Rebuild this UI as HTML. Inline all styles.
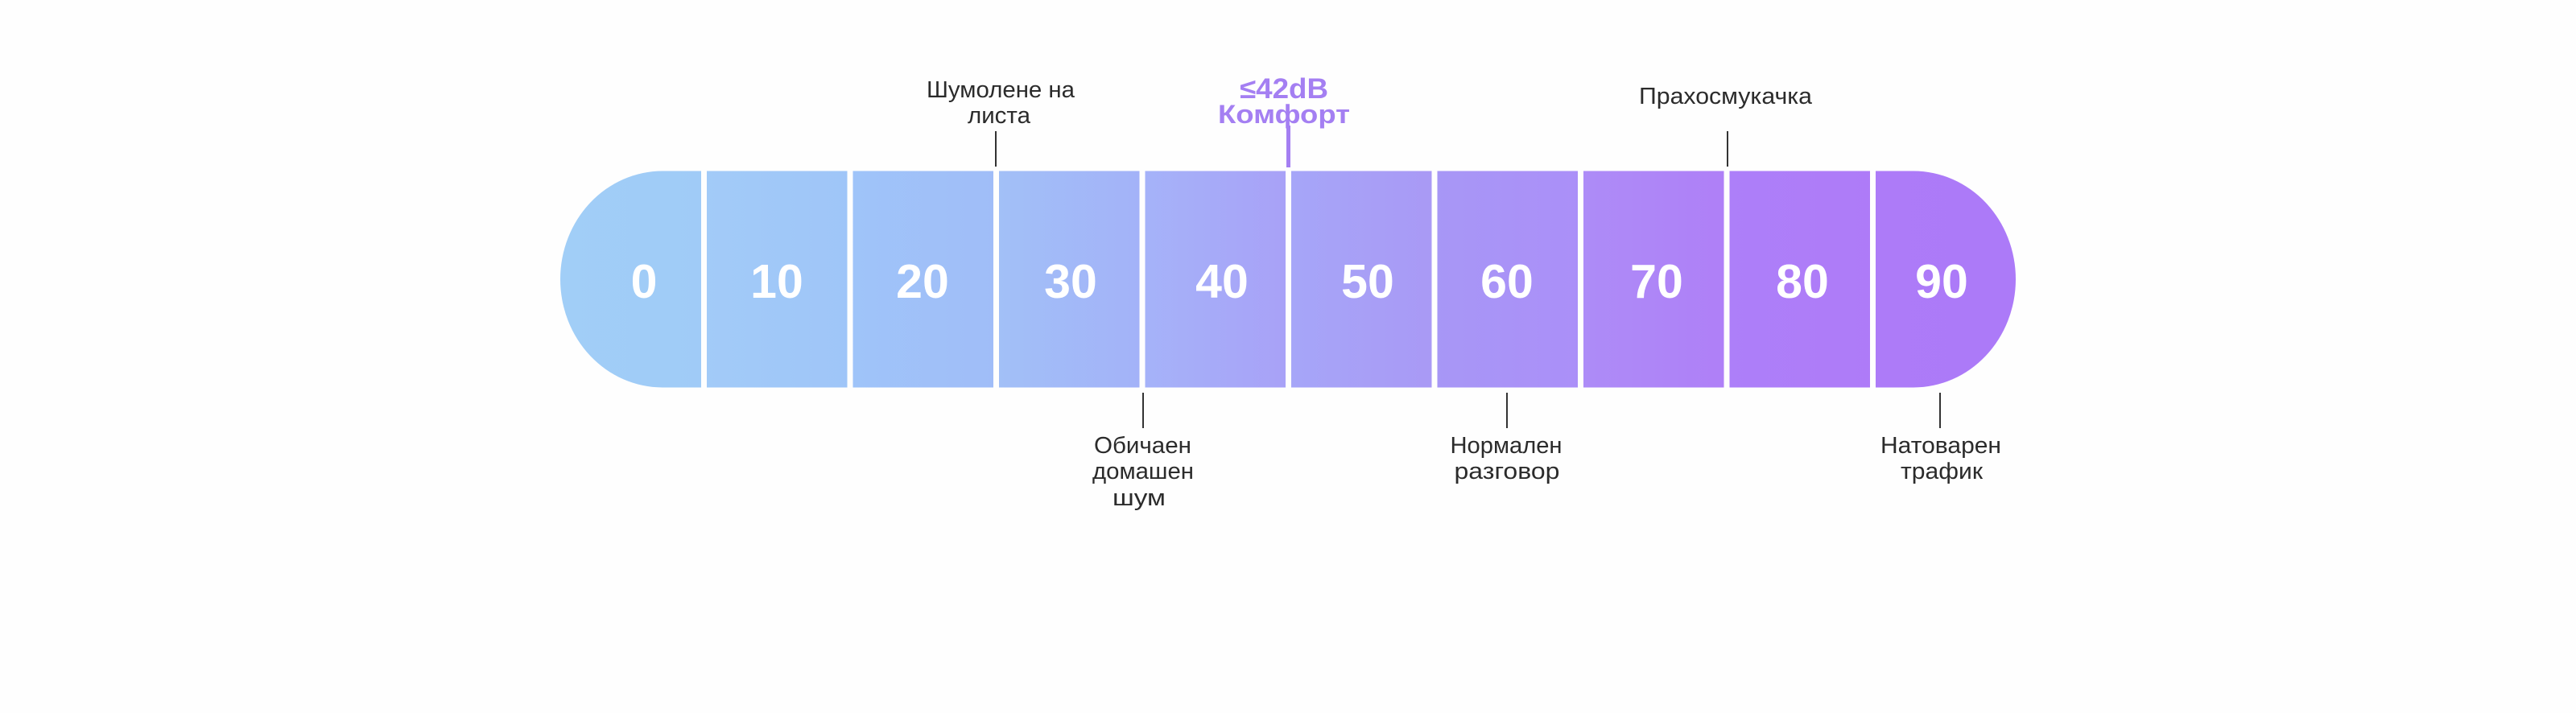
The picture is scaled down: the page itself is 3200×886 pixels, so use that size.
<!DOCTYPE html>
<html>
<head>
<meta charset="utf-8">
<style>
  html, body { margin: 0; padding: 0; background: #fefefe; }
  svg { display: block; }
  .lbl { font-family: "Liberation Sans", "Noto Sans CJK JP", sans-serif; font-size: 29px; fill: #2b2b2b; }
  .num { font-family: "Liberation Sans", sans-serif; font-size: 59px; font-weight: bold; fill: #ffffff; }
  .pur { font-family: "Liberation Sans", "Noto Sans CJK JP", sans-serif; font-weight: bold; fill: #a47ff2; }
</style>
</head>
<body>
<svg width="3200" height="886" viewBox="0 0 3200 886" xmlns="http://www.w3.org/2000/svg">
  <defs>
    <clipPath id="bar">
      <rect x="696" y="212.5" width="1808" height="269" rx="127" ry="134.5"/>
    </clipPath>
    <linearGradient id="g0" x1="0" x2="1" y1="0" y2="0"><stop offset="0" stop-color="#a1cef7"/><stop offset="1" stop-color="#a0cbf7"/></linearGradient>
    <linearGradient id="g1" x1="0" x2="1" y1="0" y2="0"><stop offset="0" stop-color="#a2cbf8"/><stop offset="1" stop-color="#9fc5f8"/></linearGradient>
    <linearGradient id="g2" x1="0" x2="1" y1="0" y2="0"><stop offset="0" stop-color="#9fc4f9"/><stop offset="1" stop-color="#a0bdf8"/></linearGradient>
    <linearGradient id="g3" x1="0" x2="1" y1="0" y2="0"><stop offset="0" stop-color="#a2c0f7"/><stop offset="1" stop-color="#a3b2f8"/></linearGradient>
    <linearGradient id="g4" x1="0" x2="1" y1="0" y2="0"><stop offset="0" stop-color="#a5b3f9"/><stop offset="1" stop-color="#a8a1f7"/></linearGradient>
    <linearGradient id="g5" x1="0" x2="1" y1="0" y2="0"><stop offset="0" stop-color="#a6a6f8"/><stop offset="1" stop-color="#a999f5"/></linearGradient>
    <linearGradient id="g6" x1="0" x2="1" y1="0" y2="0"><stop offset="0" stop-color="#a797f6"/><stop offset="1" stop-color="#ab8ff8"/></linearGradient>
    <linearGradient id="g7" x1="0" x2="1" y1="0" y2="0"><stop offset="0" stop-color="#ad8cf7"/><stop offset="1" stop-color="#af7ff7"/></linearGradient>
    <linearGradient id="g8" x1="0" x2="1" y1="0" y2="0"><stop offset="0" stop-color="#ad7ff9"/><stop offset="1" stop-color="#ae7bf8"/></linearGradient>
    <linearGradient id="g9" x1="0" x2="1" y1="0" y2="0"><stop offset="0" stop-color="#ad7bf8"/><stop offset="1" stop-color="#ac7af8"/></linearGradient>
  </defs>

  <rect x="0" y="0" width="3200" height="886" fill="#fefefe"/>

  <!-- bar cells -->
  <g clip-path="url(#bar)">
    <rect x="690" y="210" width="184.5" height="275" fill="url(#g0)"/>
    <rect x="874.5" y="210" width="181.5" height="275" fill="url(#g1)"/>
    <rect x="1056" y="210" width="181.5" height="275" fill="url(#g2)"/>
    <rect x="1237.5" y="210" width="181.5" height="275" fill="url(#g3)"/>
    <rect x="1419" y="210" width="181.5" height="275" fill="url(#g4)"/>
    <rect x="1600.5" y="210" width="181.5" height="275" fill="url(#g5)"/>
    <rect x="1782" y="210" width="181.5" height="275" fill="url(#g6)"/>
    <rect x="1963.5" y="210" width="181.5" height="275" fill="url(#g7)"/>
    <rect x="2145" y="210" width="181.5" height="275" fill="url(#g8)"/>
    <rect x="2326.5" y="210" width="185" height="275" fill="url(#g9)"/>
  </g>
  <!-- white gaps -->
  <g fill="#fefefe">
    <rect x="871" y="205" width="7" height="285"/>
    <rect x="1052.5" y="205" width="7" height="285"/>
    <rect x="1234" y="205" width="7" height="285"/>
    <rect x="1415.5" y="205" width="7" height="285"/>
    <rect x="1597" y="205" width="7" height="285"/>
    <rect x="1778.5" y="205" width="7" height="285"/>
    <rect x="1960" y="205" width="7" height="285"/>
    <rect x="2141.5" y="205" width="7" height="285"/>
    <rect x="2323" y="205" width="7" height="285"/>
  </g>

  <!-- numbers -->
  <g class="num" text-anchor="middle">
    <text x="800" y="370">0</text>
    <text x="965" y="370">10</text>
    <text x="1146" y="370">20</text>
    <text x="1330" y="370">30</text>
    <text x="1518" y="370">40</text>
    <text x="1699" y="370">50</text>
    <text x="1872" y="370">60</text>
    <text x="2058" y="370">70</text>
    <text x="2239" y="370">80</text>
    <text x="2412" y="370">90</text>
  </g>

  <!-- ticks -->
  <g stroke="#333333" stroke-width="2">
    <line x1="1237" y1="163" x2="1237" y2="207"/>
    <line x1="2146" y1="163" x2="2146" y2="207"/>
    <line x1="1420" y1="488" x2="1420" y2="532"/>
    <line x1="1872" y1="488" x2="1872" y2="532"/>
    <line x1="2410" y1="488" x2="2410" y2="532"/>
  </g>
  <line x1="1600.5" y1="156" x2="1600.5" y2="208" stroke="#a47ff2" stroke-width="5"/>

  <!-- top labels -->
  <g class="lbl" text-anchor="middle">
    <text x="1243" y="121" textLength="184" lengthAdjust="spacingAndGlyphs">Шумолене на</text>
    <text x="1241" y="153" textLength="78" lengthAdjust="spacingAndGlyphs">листа</text>
    <text x="2143.5" y="129" textLength="215" lengthAdjust="spacingAndGlyphs">Прахосмукачка</text>
  </g>
  <g class="pur" text-anchor="middle">
    <text x="1595" y="122" font-size="35" textLength="110" lengthAdjust="spacingAndGlyphs">≤42dB</text>
    <text x="1595" y="153" font-size="32" textLength="164" lengthAdjust="spacingAndGlyphs">Комфорт</text>
  </g>

  <!-- bottom labels -->
  <g class="lbl" text-anchor="middle">
    <text x="1419.5" y="563" textLength="121" lengthAdjust="spacingAndGlyphs">Обичаен</text>
    <text x="1420" y="595" textLength="126" lengthAdjust="spacingAndGlyphs">домашен</text>
    <text x="1415" y="628" textLength="66" lengthAdjust="spacingAndGlyphs">шум</text>

    <text x="1871" y="563" textLength="139" lengthAdjust="spacingAndGlyphs">Нормален</text>
    <text x="1872" y="595" textLength="131" lengthAdjust="spacingAndGlyphs">разговор</text>

    <text x="2411" y="563" textLength="150" lengthAdjust="spacingAndGlyphs">Натоварен</text>
    <text x="2412" y="595" textLength="102" lengthAdjust="spacingAndGlyphs">трафик</text>
  </g>
</svg>
</body>
</html>
